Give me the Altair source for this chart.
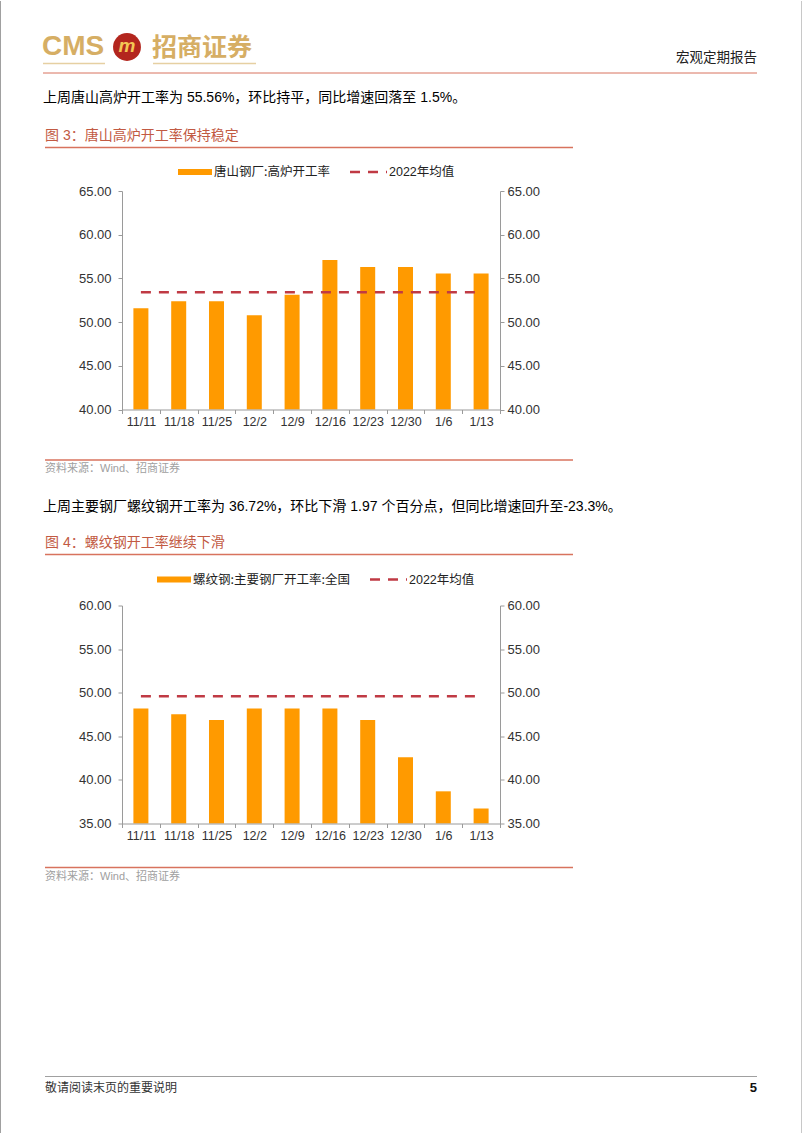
import altair as alt
import pandas as pd

# ---------------- data ----------------
weeks = ["11/11", "11/18", "11/25", "12/2", "12/9", "12/16", "12/23", "12/30", "1/6", "1/13"]
tangshan_rate = [51.58, 52.38, 52.38, 50.78, 53.14, 57.10, 56.30, 56.30, 55.56, 55.56]
tangshan_avg_2022 = 53.41
rebar_rate = [48.19, 47.53, 46.88, 48.19, 48.19, 48.19, 46.88, 42.60, 38.69, 36.72]
rebar_avg_2022 = 49.60
y1_ticks = [40, 45, 50, 55, 60, 65]
y2_ticks = [35, 40, 45, 50, 55, 60]

series1_name = "唐山钢厂:高炉开工率"
series2_name = "螺纹钢:主要钢厂开工率:全国"
avg_name = "2022年均值"

# ---------------- styles ----------------
ORANGE = "#FF9A00"
DASH_RED = "#C03A44"
LINE_RED = "#D8735E"
TITLE_RED = "#C25A43"
GOLD = "#D6AE64"
AX = "#9A9A9A"
CJK = "Noto Sans CJK SC"
MIX = "Liberation Sans, Noto Sans CJK SC"
NUM = "Liberation Sans"

W = 378
H1, H2 = 218.5, 218
O1 = (122, 190)
O2 = (122, 604)
ONE = pd.DataFrame({"k": [0]})


def txt(s, x, y, origin, size=14, color="#000000", font=MIX, align="left", weight="normal", style="normal"):
    ox, oy = origin
    return alt.Chart(ONE).mark_text(
        text=s, align=align, baseline="middle", font=font, fontSize=size,
        color=color, fontWeight=weight, fontStyle=style
    ).encode(x=alt.value(x - ox), y=alt.value(y - oy))


def hline(x1, x2, y, origin, color=LINE_RED, width=1.0, dash=None):
    ox, oy = origin
    kw = dict(color=color, strokeWidth=width)
    if dash:
        kw["strokeDash"] = dash
    return alt.Chart(ONE).mark_rule(**kw).encode(
        x=alt.value(x1 - ox), x2=alt.value(x2 - ox), y=alt.value(y - oy))


def vline(x, y1, y2, origin, color=AX, width=1.0):
    ox, oy = origin
    return alt.Chart(ONE).mark_rule(color=color, strokeWidth=width).encode(
        x=alt.value(x - ox), y=alt.value(y1 - oy), y2=alt.value(y2 - oy))


def box(x1, x2, y1, y2, origin, color, opacity=1.0):
    ox, oy = origin
    return alt.Chart(ONE).mark_rect(color=color, opacity=opacity).encode(
        x=alt.value(x1 - ox), x2=alt.value(x2 - ox), y=alt.value(y1 - oy), y2=alt.value(y2 - oy))


def y_axis(ticks, orient, pad):
    return alt.Axis(
        orient=orient, values=ticks, format=".2f", title=None, grid=False,
        domainColor=AX, tickColor=AX, tickSize=4, labelPadding=pad,
        labelFont=NUM, labelFontSize=13, labelColor="#333333", zindex=1)


X_AXIS = alt.Axis(
    orient="bottom", title=None, labelAngle=0, tickBand="extent", tickSize=4,
    labelPadding=2, domainColor=AX, tickColor=AX, labelFont=NUM,
    labelFontSize=12.5, labelColor="#333333", zindex=1)


def panel(values, avg, ticks):
    df = pd.DataFrame({"week": weeks, "rate": values})
    avg_df = pd.DataFrame({"start": [weeks[0]], "end": [weeks[-1]], "avg": [avg]})
    xs = alt.Scale(domain=weeks, paddingInner=0, paddingOuter=0)
    ys = alt.Scale(domain=[ticks[0], ticks[-1]], nice=False, zero=False)
    bars = alt.Chart(df).mark_bar(size=15, color=ORANGE).encode(
        x=alt.X("week:N", scale=xs, sort=weeks, axis=X_AXIS),
        y=alt.Y("rate:Q", scale=ys, axis=y_axis(ticks, "left", 7)),
        y2=alt.datum(ticks[0]),
    )
    rule = alt.Chart(avg_df).mark_rule(color=DASH_RED, strokeDash=[10, 8], strokeWidth=2.6).encode(
        x=alt.X("start:N", scale=xs, sort=weeks, axis=X_AXIS),
        x2="end:N",
        y=alt.Y("avg:Q", scale=ys, axis=y_axis(ticks, "right", 3)),
    )
    return bars, rule


# ---------------- panel 1 (with page header) ----------------
bars1, rule1 = panel(tangshan_rate, tangshan_avg_2022, y1_ticks)
backdrop = box(0, 802, 0, 1133, O1, "#FFFFFF", opacity=0)

decor1 = [
    vline(0.5, 0, 1133, O1, color="#A0A0A0"),
    vline(801.5, 0, 1133, O1, color="#C8C8C8"),
    txt("CMS", 42, 46, O1, size=28, color=GOLD, font=NUM, weight="bold"),
    alt.Chart(ONE).mark_circle(size=780, color="#B3261E", opacity=1).encode(
        x=alt.value(127 - O1[0]), y=alt.value(46 - O1[1])),
    txt("m", 127, 45, O1, size=19, color="#F3C655", font=NUM, align="center", weight="bold", style="italic"),
    txt("招商证券", 152, 47, O1, size=25, color=GOLD, font=CJK, weight="bold"),
    hline(43, 105, 62.5, O1, color="#E6D0A2", width=1.5),
    hline(153, 256, 62.5, O1, color="#E6D0A2", width=1.5),
    txt("宏观定期报告", 757, 57, O1, size=13.5, color="#222222", font=CJK, align="right"),
    hline(43, 757, 72, O1, color=LINE_RED, width=1),
    txt("上周唐山高炉开工率为 55.56%，环比持平，同比增速回落至 1.5%。", 43, 97, O1, size=14),
    txt("图 3：唐山高炉开工率保持稳定", 45, 135, O1, size=14, color=TITLE_RED),
    hline(45, 573, 146.5, O1, color=LINE_RED, width=1.3),
    box(178, 212, 168, 174, O1, ORANGE),
    txt(series1_name, 214, 171, O1, size=12.5, color="#222222", font=CJK),
    hline(350, 387, 171, O1, color=DASH_RED, width=2.6, dash=[10, 8]),
    txt(avg_name, 389, 171, O1, size=12.5, color="#222222"),
    hline(45, 573, 459, O1, color=LINE_RED, width=1.3),
    txt("资料来源：Wind、招商证券", 45, 468, O1, size=11, color="#A0A0A0"),
]

p1 = alt.layer(backdrop, bars1, rule1, *decor1).resolve_scale(y="independent").properties(
    width=W, height=H1)

# ---------------- panel 2 (with footer) ----------------
bars2, rule2 = panel(rebar_rate, rebar_avg_2022, y2_ticks)
decor2 = [
    txt("上周主要钢厂螺纹钢开工率为 36.72%，环比下滑 1.97 个百分点，但同比增速回升至-23.3%。", 43, 505, O2, size=14),
    txt("图 4：螺纹钢开工率继续下滑", 45, 541, O2, size=14, color=TITLE_RED),
    hline(45, 573, 553, O2, color=LINE_RED, width=1.3),
    box(157, 191, 575, 581, O2, ORANGE),
    txt(series2_name, 193, 578, O2, size=12.5, color="#222222", font=CJK),
    hline(370, 407, 578, O2, color=DASH_RED, width=2.6, dash=[10, 8]),
    txt(avg_name, 409, 578, O2, size=12.5, color="#222222"),
    hline(45, 573, 866, O2, color=LINE_RED, width=1.3),
    txt("资料来源：Wind、招商证券", 45, 875, O2, size=11, color="#A0A0A0"),
    hline(45, 757, 1075, O2, color="#A0A0A0", width=1),
    txt("敬请阅读末页的重要说明", 45, 1086, O2, size=12, color="#333333", font=CJK),
    txt("5", 757, 1086, O2, size=13, color="#111111", font=NUM, align="right", weight="bold"),
]

p2 = alt.layer(bars2, rule2, *decor2).resolve_scale(y="independent").properties(
    width=W, height=H2)

chart = alt.vconcat(p1, p2, spacing=O2[1] - O1[1] - H1, bounds="flush").properties(
    padding=0, background="#FFFFFF"
).configure_view(stroke=None)

chart.save("out.html", embed_options={"renderer": "svg", "actions": False})
